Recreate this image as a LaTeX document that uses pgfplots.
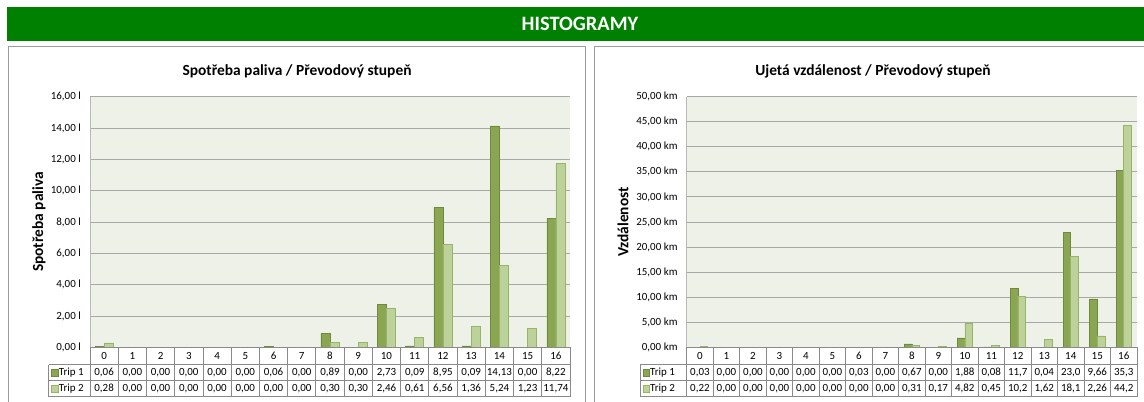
\documentclass[border=0pt]{standalone}
\usepackage{fontspec}
\setmainfont{Carlito}
\usepackage{pgfplots}
\usepackage{pgfplotstable}
\pgfplotsset{compat=1.18}

\definecolor{banner}{HTML}{008000}
\definecolor{tripA}{HTML}{8BA653}
\definecolor{tripAd}{HTML}{6F8A3A}
\definecolor{tripB}{HTML}{BDD19B}
\definecolor{tripBd}{HTML}{98B567}
\definecolor{plotbg}{HTML}{EEF1E8}
\definecolor{gridc}{HTML}{A8A8A8}
\definecolor{tabc}{HTML}{8A8A8A}
\definecolor{framec}{HTML}{9C9C9C}

\newcommand\tabfont{\fontsize{11}{12}\selectfont}

% Fuel consumption per gear (litres)
\pgfplotstableread{
x t1 t2 l1 l2
0 0.06 0.28 0,06 0,28
1 0 0 0,00 0,00
2 0 0 0,00 0,00
3 0 0 0,00 0,00
4 0 0 0,00 0,00
5 0 0 0,00 0,00
6 0.06 0 0,06 0,00
7 0 0 0,00 0,00
8 0.89 0.30 0,89 0,30
9 0 0.30 0,00 0,30
10 2.73 2.46 2,73 2,46
11 0.09 0.61 0,09 0,61
12 8.95 6.56 8,95 6,56
13 0.09 1.36 0,09 1,36
14 14.13 5.24 14,13 5,24
15 0 1.23 0,00 1,23
16 8.22 11.74 8,22 11,74
}\fuel

% Distance per gear (km)
\pgfplotstableread{
x t1 t2 l1 l2
0 0.03 0.22 0,03 0,22
1 0 0 0,00 0,00
2 0 0 0,00 0,00
3 0 0 0,00 0,00
4 0 0 0,00 0,00
5 0 0 0,00 0,00
6 0.03 0 0,03 0,00
7 0 0 0,00 0,00
8 0.67 0.31 0,67 0,31
9 0 0.17 0,00 0,17
10 1.88 4.82 1,88 4,82
11 0.08 0.45 0,08 0,45
12 11.7 10.2 11,7 10,2
13 0.04 1.62 0,04 1,62
14 23.0 18.1 23,0 18,1
15 9.66 2.26 9,66 2,26
16 35.3 44.2 35,3 44,2
}\dist

\pgfplotsset{
  hist/.style={
    scale only axis, height=250.6bp,
    xmin=-0.5, xmax=16.5, ymin=0,
    axis background/.style={fill=plotbg},
    ymajorgrids, grid style={gridc, line width=0.9bp},
    axis lines*=left,
    x axis line style={draw=none},
    y axis line style={draw=gridc!80, line width=0.8bp},
    xtick=\empty,
    major tick length=0pt,
    yticklabel style={font=\fontsize{11}{12}\selectfont, anchor=east, inner sep=0pt, xshift=-9bp},
    clip=false,
  },
  barA/.style={ybar, bar width=0.32, bar shift=-0.16, fill=tripA, draw=tripAd, line width=0.6bp},
  barB/.style={ybar, bar width=0.32, bar shift=0.16, fill=tripB, draw=tripBd, line width=0.6bp},
}

% #1 plot left x, #2 column width, #3 legend column left, #4 table
\newcommand\drawtable[4]{%
  \draw[tabc, line width=0.8bp] (#1,347.3) -- ({#1+17*#2},347.3);
  \draw[tabc, line width=0.8bp] (#3,364.5) -- ({#1+17*#2},364.5);
  \draw[tabc, line width=0.8bp] (#3,380.5) -- ({#1+17*#2},380.5);
  \draw[tabc, line width=0.8bp] (#3,396.5) -- ({#1+17*#2},396.5);
  \draw[tabc, line width=0.8bp] (#3,364.5) -- (#3,396.5);
  \foreach \k in {0,...,17} {
    \draw[tabc, line width=0.8bp] ({#1+\k*#2},347.3) -- ({#1+\k*#2},396.5);
  }
  \foreach \i in {0,...,16} {
    \node[font=\tabfont, inner sep=0pt] at ({#1+(\i+0.5)*#2},356) {\i};
    \pgfplotstablegetelem{\i}{l1}\of#4
    \node[font=\tabfont, inner sep=0pt] at ({#1+(\i+0.5)*#2},372.5) {\pgfplotsretval};
    \pgfplotstablegetelem{\i}{l2}\of#4
    \node[font=\tabfont, inner sep=0pt] at ({#1+(\i+0.5)*#2},388.5) {\pgfplotsretval};
  }
  \filldraw[fill=tripA, draw=tripAd, line width=0.5bp] ({#3+3},369.5) rectangle ({#3+9.5},376);
  \node[anchor=west, font=\tabfont, inner sep=0pt] at ({#3+10},372.5) {Trip 1};
  \filldraw[fill=tripB, draw=tripBd, line width=0.5bp] ({#3+3},385.5) rectangle ({#3+9.5},392);
  \node[anchor=west, font=\tabfont, inner sep=0pt] at ({#3+10},388.5) {Trip 2};
}

\begin{document}
\begin{tikzpicture}
\useasboundingbox (0,0) rectangle (1144bp,-402bp);

\begin{scope}[x=1bp, y=-1bp]
  % banner
  \fill[banner] (7,7) rectangle (1144,41);
  \node[text=white, font=\fontsize{20.5}{22}\selectfont\bfseries] at (580,23.5) {HISTOGRAMY};
  % panel frames
  \draw[framec, line width=1.8bp] (8.5,402) -- (8.5,46.5) -- (585.5,46.5) -- (585.5,402);
  \draw[framec, line width=1.8bp] (594.5,402) -- (594.5,46.5) -- (1144,46.5);
  % titles
  \node[font=\fontsize{15.5}{17}\selectfont\bfseries] at (297,71) {Spotřeba paliva / Převodový stupeň};
  \node[font=\fontsize{15.5}{17}\selectfont\bfseries] at (873,71) {Ujetá vzdálenost / Převodový stupeň};
  % y labels
  \node[rotate=90, font=\fontsize{15.5}{17}\selectfont\bfseries] at (39,222) {Spotřeba paliva};
  \node[rotate=90, font=\fontsize{15.5}{17}\selectfont\bfseries] at (623,222) {Vzdálenost};
\end{scope}

% left chart
\begin{axis}[hist, at={(90bp,-347.3bp)}, anchor=south west,
  width=480bp, ymax=16, ytick={0,2,...,16},
  yticklabel={\pgfmathprintnumber[fixed,fixed zerofill,precision=2,use comma,assume math mode=true]{\tick}\space l}]
  \addplot[barA] table[x=x, y=t1] {\fuel};
  \addplot[barB] table[x=x, y=t2] {\fuel};
\end{axis}

% right chart
\begin{axis}[hist, at={(686.7bp,-347.3bp)}, anchor=south west,
  width=450.3bp, ymax=50, ytick={0,5,...,50},
  yticklabel={\pgfmathprintnumber[fixed,fixed zerofill,precision=2,use comma,assume math mode=true]{\tick}\space km}]
  \addplot[barA, bar width=0.29, bar shift=-0.145] table[x=x, y=t1] {\dist};
  \addplot[barB, bar width=0.29, bar shift=0.145] table[x=x, y=t2] {\dist};
\end{axis}

\begin{scope}[x=1bp, y=-1bp]
  \drawtable{90}{28.2353}{48.7}{\fuel}
  \drawtable{686.7}{26.4882}{640}{\dist}
\end{scope}
\end{tikzpicture}
\end{document}
